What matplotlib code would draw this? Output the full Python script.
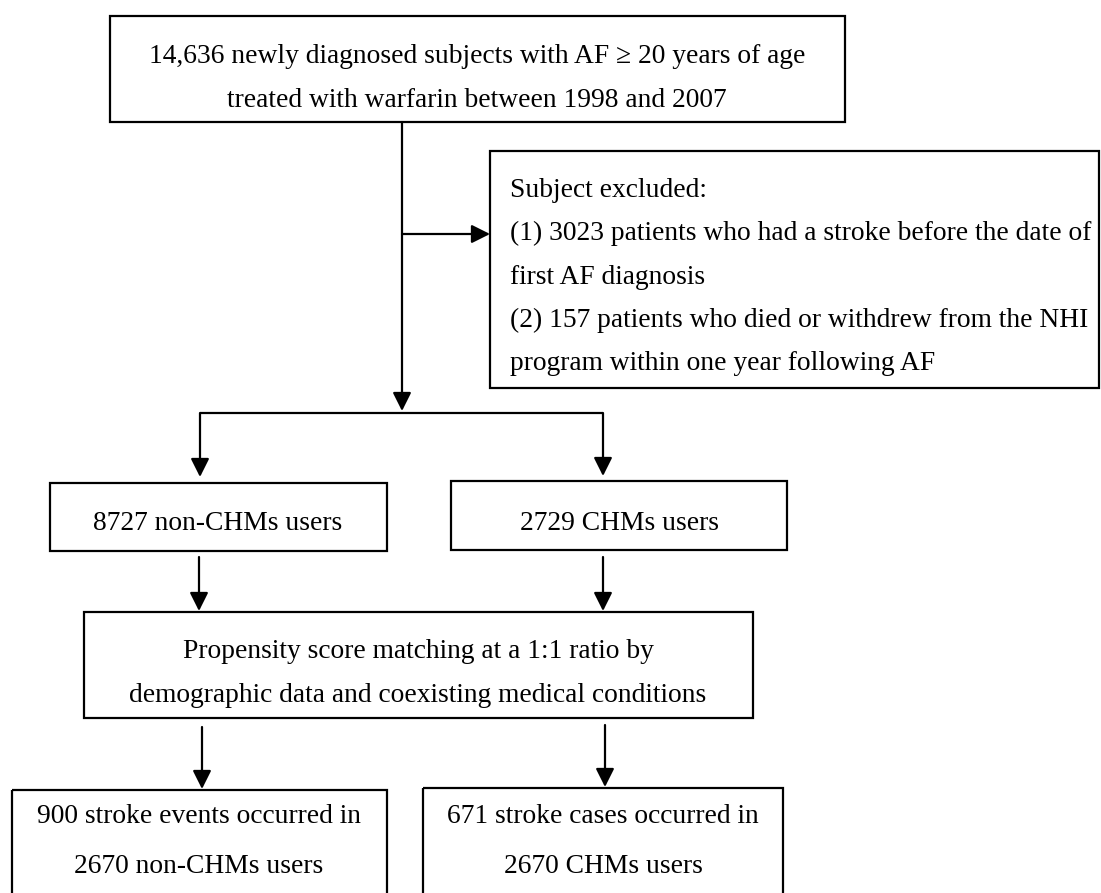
import matplotlib
matplotlib.use("Agg")
import matplotlib.pyplot as plt
from matplotlib.patches import Rectangle

# box texts (one entry per line)
top_lines = ["14,636 newly diagnosed subjects with AF \u2265 20 years of age",
             "treated with warfarin between 1998 and 2007"]
excluded_lines = ["Subject excluded:",
                  "(1) 3023 patients who had a stroke before the date of",
                  "first AF diagnosis",
                  "(2) 157 patients who died or withdrew from the NHI",
                  "program within one year following AF"]
group_labels = ["8727 non-CHMs users", "2729 CHMs users"]
matching_lines = ["Propensity score matching at a 1:1 ratio by",
                  "demographic data and coexisting medical conditions"]
outcome_lines = [["900 stroke events occurred in", "2670 non-CHMs users"],
                 ["671 stroke cases occurred in", "2670 CHMs users"]]

W, H = 1101, 893
fig = plt.figure(figsize=(W / 100, H / 100), dpi=100)
ax = fig.add_axes([0, 0, 1, 1])
ax.set_xlim(0, W)
ax.set_ylim(H, 0)
ax.axis("off")

FONT = "Liberation Serif"
FS = 19.8
LW = 1.6


def box(x0, y0, x1, y1):
    ax.add_patch(Rectangle((x0, y0), x1 - x0, y1 - y0, fill=False,
                           edgecolor="black", linewidth=LW, clip_on=False))


def line(xs, ys):
    ax.plot(xs, ys, color="black", linewidth=LW, solid_capstyle="butt")


def arrow(x0, y0, x1, y1):
    ax.annotate("", xy=(x1, y1), xytext=(x0, y0),
                arrowprops=dict(arrowstyle="-|>", color="black", lw=LW,
                                mutation_scale=28, shrinkA=0, shrinkB=0))


def text(x, y, s, ha="center"):
    ax.text(x, y, s, ha=ha, va="baseline", fontsize=FS, family=FONT)


# top box
box(110, 16, 845, 122)
for s, y in zip(top_lines, [63, 107]):
    text(477, y, s)

# main trunk and exclusion branch
arrow(402, 122, 402, 411)
arrow(402, 234, 490, 234)

box(490, 151, 1099, 388)
for i, s in enumerate(excluded_lines):
    text(510, 197 + i * 43.3, s, ha="left")

# split into two groups
line([200, 603], [413, 413])
arrow(200, 413, 200, 477)
arrow(603, 413, 603, 476)

box(50, 483, 387, 551)
box(451, 481, 787, 550)
text(218, 530, group_labels[0])
text(619, 530, group_labels[1])

arrow(199, 557, 199, 611)
arrow(603, 557, 603, 611)

# matching box
box(84, 612, 753, 718)
for s, y in zip(matching_lines, [658, 702]):
    text(418, y, s)

arrow(202, 727, 202, 789)
arrow(605, 725, 605, 787)

# outcome boxes (run past the bottom edge)
box(12, 790, 387, 920)
box(423, 788, 783, 920)
for cx, lines in zip([199, 603], outcome_lines):
    for s, y in zip(lines, [823, 873]):
        text(cx, y, s)

fig.savefig("out.png", dpi=100, facecolor="white")
